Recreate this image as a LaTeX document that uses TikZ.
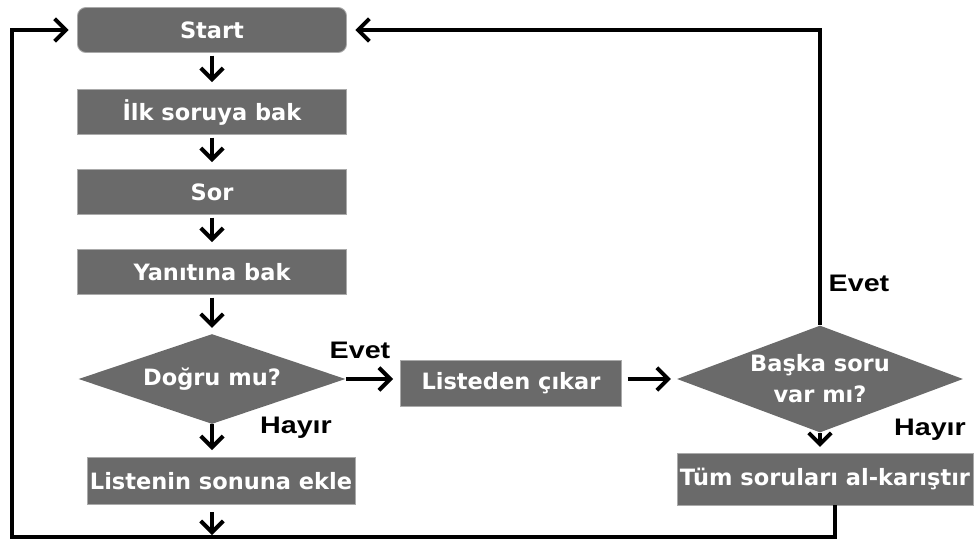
\documentclass[tikz,border=0pt]{standalone}
\usepackage{fontspec}
\usepackage{tikz}
\usetikzlibrary{
  arrows.meta,
  shapes.geometric
}
\newfontfamily\boxfont{DejaVu Sans}
\newfontfamily\lblfont{Liberation Sans}[FakeStretch=1.2]
\definecolor{boxgray}{RGB}{106,106,106}
\definecolor{boxedge}{RGB}{170,170,170}
\tikzset{
  stepbox/.style={fill=boxgray, draw=boxedge, line width=0.6pt, text=white,
    font=\boxfont\bfseries\fontsize{16}{18}\selectfont, inner sep=0pt,
    minimum width=6.725cm, minimum height=1.125cm},
  askbox/.style={stepbox, shape=diamond, aspect=3, draw=none, align=center,
    font=\boxfont\bfseries\fontsize{16}{22}\selectfont},
  flow/.style={-{Straight Barb[length=8pt, width=16pt]}, line width=2.8pt, black},
  answer/.style={font=\lblfont\bfseries\fontsize{17}{19}\selectfont}
}

\begin{document}
\begin{tikzpicture}[x=0.025cm, y=-0.025cm]
  \useasboundingbox (0,0) rectangle (974,540);
  % left column
  \node[stepbox, rounded corners=6pt] (start) at (212,30) {Start};
  \node[stepbox] (ilk) at (212,112) {İlk soruya bak};
  \node[stepbox] (sor) at (212,192) {Sor};
  \node[stepbox] (yanit) at (212,272) {Yanıtına bak};
  \node[askbox, minimum width=6.675cm, minimum height=2.25cm] (dogru) at (212,379) {Doğru mu?};
  \node[stepbox, minimum width=6.7cm, minimum height=1.175cm] (ekle) at (221,481) {Listenin sonuna ekle};
  % right side
  \node[stepbox, minimum width=5.525cm, minimum height=1.15cm] (listeden) at (511,383) {Listeden çıkar};
  \node[askbox, minimum width=7.15cm, minimum height=2.675cm] (baska) at (820,379) {Başka soru\\var mı?};
  \node[stepbox, minimum width=7.4cm, minimum height=1.3cm] (karistir) at (825,479) {Tüm soruları al-karıştır};
  \coordinate (lbot) at (12,537);
  \coordinate (ekledown) at (212,535);

  \draw[flow, shorten <=2pt, shorten >=5pt] (start) -- (ilk);
  \draw[flow, shorten <=2pt, shorten >=5pt] (ilk) -- (sor);
  \draw[flow, shorten <=2pt, shorten >=5pt] (sor) -- (yanit);
  \draw[flow, shorten <=2pt, shorten >=4pt] (yanit) -- (dogru);
  \draw[flow, shorten >=5pt] (dogru.south) -- (dogru.south |- ekle.north);
  \draw[flow] (212,512) -- (ekledown);
  \draw[flow, shorten >=5pt] (dogru.east) -- (dogru.east -| listeden.west);
  \draw[flow, shorten <=4pt, shorten >=4pt] (listeden.east |- baska.west) -- (baska.west);
  \draw[flow, shorten >=4pt] (baska.south) -- (baska.south |- karistir.north);
  \draw[flow, shorten >=6pt] (baska.north) |- (start.east);
  \draw[flow, shorten >=6pt] ([xshift=7]karistir.south) |- (lbot) |- (start.west);

  \node[answer] (evet1) at (360,350) {Evet};
  \node[answer] (hayir1) at (296,428) {Hayır};
  \node[answer] (evet2) at (859,283) {Evet};
  \node[answer] (hayir2) at (930,430) {Hayır};
\end{tikzpicture}
\end{document}
